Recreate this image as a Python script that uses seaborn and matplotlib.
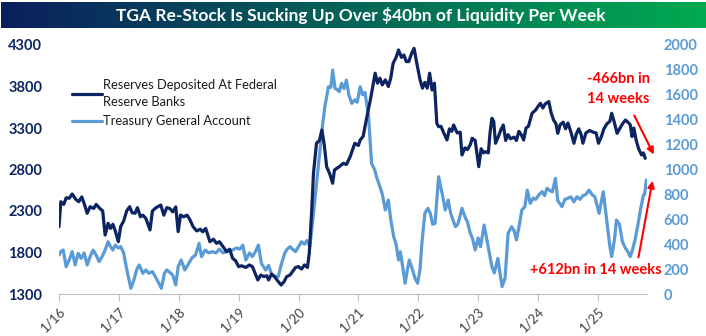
import numpy as np
import pandas as pd
import matplotlib
matplotlib.use("Agg")
import matplotlib.pyplot as plt
import seaborn as sns

# ---------------- data ----------------
res_t = [2016.00, 2016.03, 2016.08, 2016.12, 2016.17, 2016.22, 2016.28, 2016.33, 2016.38, 2016.42,
         2016.47, 2016.52, 2016.58, 2016.62, 2016.68, 2016.73, 2016.77, 2016.82, 2016.86, 2016.90,
         2016.94, 2016.99, 2017.03, 2017.08, 2017.13, 2017.18, 2017.22, 2017.27, 2017.31, 2017.36,
         2017.40, 2017.45, 2017.52, 2017.56, 2017.62, 2017.70, 2017.75, 2017.80, 2017.85, 2017.90,
         2017.95, 2017.99, 2018.03, 2018.08, 2018.14, 2018.19, 2018.24, 2018.30, 2018.36, 2018.40,
         2018.45, 2018.52, 2018.58, 2018.63, 2018.68, 2018.74, 2018.80, 2018.85, 2018.90, 2018.95,
         2019.00, 2019.05, 2019.12, 2019.18, 2019.23, 2019.27, 2019.32, 2019.37, 2019.42, 2019.47,
         2019.50, 2019.55, 2019.60, 2019.65, 2019.71, 2019.76, 2019.80, 2019.86, 2019.90, 2019.95,
         2020.00, 2020.05, 2020.10, 2020.15, 2020.18, 2020.22, 2020.25, 2020.30, 2020.35, 2020.39,
         2020.43, 2020.47, 2020.52, 2020.57, 2020.60, 2020.68, 2020.75, 2020.80, 2020.86, 2020.94,
         2021.00, 2021.03, 2021.08, 2021.11, 2021.16, 2021.20, 2021.24, 2021.28, 2021.32, 2021.36,
         2021.40, 2021.45, 2021.50, 2021.54, 2021.58, 2021.63, 2021.67, 2021.72, 2021.76, 2021.80,
         2021.84, 2021.89, 2021.93, 2021.97, 2022.03, 2022.07, 2022.11, 2022.15, 2022.19, 2022.23,
         2022.27, 2022.31, 2022.34, 2022.38, 2022.42, 2022.48, 2022.52, 2022.56, 2022.59, 2022.65,
         2022.70, 2022.73, 2022.78, 2022.82, 2022.87, 2022.90, 2022.95, 2023.01, 2023.05, 2023.09,
         2023.12, 2023.17, 2023.20, 2023.23, 2023.26, 2023.29, 2023.34, 2023.38, 2023.42, 2023.46,
         2023.50, 2023.54, 2023.60, 2023.64, 2023.68, 2023.72, 2023.76, 2023.80, 2023.84, 2023.90,
         2023.96, 2024.00, 2024.04, 2024.08, 2024.12, 2024.18, 2024.22, 2024.26, 2024.30, 2024.33,
         2024.37, 2024.42, 2024.46, 2024.50, 2024.55, 2024.60, 2024.64, 2024.68, 2024.72, 2024.75,
         2024.80, 2024.86, 2024.92, 2024.97, 2025.01, 2025.06, 2025.10, 2025.15, 2025.20, 2025.23,
         2025.27, 2025.32, 2025.37, 2025.42, 2025.46, 2025.50, 2025.54, 2025.57, 2025.60, 2025.64,
         2025.68, 2025.73, 2025.76, 2025.79]
reserves = [2110, 2412, 2380, 2460, 2453, 2505, 2440, 2412, 2470, 2390,
            2272, 2352, 2330, 2380, 2332, 2300, 2010, 2152, 2090, 2140,
            2060, 1930, 2111, 2180, 2300, 2352, 2280, 2272, 2340, 2230,
            2250, 2212, 2071, 2300, 2340, 2372, 2250, 2340, 2330, 2290,
            2350, 2051, 2252, 2230, 2250, 2190, 2110, 2060, 2080, 2050,
            2090, 1930, 1960, 1910, 1930, 1870, 1810, 1840, 1730, 1700,
            1630, 1640, 1620, 1650, 1630, 1560, 1469, 1529, 1510, 1520,
            1469, 1540, 1510, 1460, 1408, 1450, 1508, 1530, 1569, 1620,
            1630, 1600, 1650, 1620, 1794, 2300, 2754, 3116, 3150, 3276,
            3100, 2834, 2750, 2634, 2794, 2834, 2875, 2860, 2950, 3116,
            3090, 3156, 3200, 3316, 3500, 3638, 3800, 3960, 3840, 3900,
            3820, 3880, 3800, 3900, 4080, 4150, 4240, 4150, 4180, 4100,
            4100, 4200, 4260, 4100, 3880, 3780, 3850, 3780, 3960, 3758,
            3840, 3357, 3316, 3320, 3250, 3156, 3290, 3260, 3336, 3240,
            3250, 2975, 3060, 3040, 3100, 3176, 3150, 2834, 3050, 3000,
            3015, 3000, 3250, 3417, 3380, 3116, 3200, 3280, 3336, 3150,
            3220, 3170, 3190, 3150, 3260, 3220, 3156, 3300, 3320, 3477,
            3517, 3560, 3598, 3540, 3590, 3618, 3480, 3396, 3350, 3236,
            3340, 3370, 3290, 3360, 3250, 3116, 3230, 3290, 3220, 3116,
            3240, 3270, 3250, 3240, 3116, 3200, 3290, 3350, 3380, 3477,
            3380, 3236, 3300, 3360, 3396, 3370, 3340, 3196, 3300, 3150,
            3050, 2975, 3000, 2935]

tga_t = [2016.00, 2016.03, 2016.07, 2016.12, 2016.17, 2016.22, 2016.27, 2016.32, 2016.37, 2016.42,
         2016.47, 2016.52, 2016.57, 2016.62, 2016.67, 2016.72, 2016.77, 2016.82, 2016.86, 2016.90,
         2016.94, 2016.99, 2017.03, 2017.08, 2017.13, 2017.20, 2017.25, 2017.30, 2017.34, 2017.40,
         2017.45, 2017.50, 2017.56, 2017.62, 2017.71, 2017.76, 2017.80, 2017.86, 2017.90, 2017.95,
         2017.99, 2018.04, 2018.10, 2018.16, 2018.22, 2018.28, 2018.34, 2018.38, 2018.44, 2018.50,
         2018.56, 2018.62, 2018.68, 2018.74, 2018.80, 2018.86, 2018.90, 2018.96, 2019.02, 2019.07,
         2019.12, 2019.18, 2019.23, 2019.28, 2019.33, 2019.38, 2019.45, 2019.50, 2019.55, 2019.60,
         2019.66, 2019.72, 2019.77, 2019.81, 2019.86, 2019.90, 2019.95, 2020.00, 2020.05, 2020.10,
         2020.14, 2020.19, 2020.24, 2020.33, 2020.40, 2020.44, 2020.50, 2020.54, 2020.57, 2020.61,
         2020.65, 2020.68, 2020.72, 2020.76, 2020.80, 2020.84, 2020.89, 2020.94, 2020.98, 2021.03,
         2021.07, 2021.11, 2021.17, 2021.22, 2021.27, 2021.31, 2021.36, 2021.40, 2021.45, 2021.50,
         2021.54, 2021.59, 2021.63, 2021.67, 2021.70, 2021.74, 2021.78, 2021.82, 2021.85, 2021.90,
         2021.95, 2021.99, 2022.03, 2022.06, 2022.11, 2022.16, 2022.20, 2022.24, 2022.28, 2022.34,
         2022.38, 2022.41, 2022.45, 2022.50, 2022.54, 2022.58, 2022.62, 2022.66, 2022.70, 2022.73,
         2022.78, 2022.82, 2022.87, 2022.91, 2022.95, 2023.00, 2023.04, 2023.10, 2023.14, 2023.19,
         2023.23, 2023.27, 2023.33, 2023.37, 2023.40, 2023.45, 2023.50, 2023.56, 2023.60, 2023.64,
         2023.69, 2023.73, 2023.78, 2023.82, 2023.87, 2023.92, 2023.96, 2024.02, 2024.07, 2024.11,
         2024.15, 2024.20, 2024.24, 2024.29, 2024.33, 2024.40, 2024.45, 2024.50, 2024.55, 2024.60,
         2024.65, 2024.70, 2024.75, 2024.80, 2024.85, 2024.90, 2024.95, 2025.02, 2025.09, 2025.16,
         2025.20, 2025.23, 2025.28, 2025.31, 2025.36, 2025.41, 2025.46, 2025.50, 2025.54, 2025.58,
         2025.62, 2025.67, 2025.71, 2025.76, 2025.78, 2025.81]
tga = [313, 340, 353, 219, 273, 340, 233, 327, 286, 330,
       233, 300, 353, 313, 260, 300, 353, 420, 380, 353,
       393, 370, 380, 330, 200, 46, 112, 200, 233, 166,
       193, 166, 180, 130, 46, 166, 193, 170, 150, 72,
       219, 273, 193, 240, 290, 313, 407, 300, 353, 330,
       340, 330, 360, 330, 340, 345, 353, 370, 360, 393,
       273, 330, 300, 340, 393, 246, 193, 230, 160, 139,
       139, 250, 327, 360, 380, 360, 340, 380, 420, 400,
       430, 380, 600, 1022, 1350, 1504, 1665, 1660, 1799, 1652,
       1640, 1625, 1692, 1650, 1718, 1600, 1531, 1560, 1540, 1665,
       1600, 1620, 1424, 1049, 1000, 930, 862, 800, 675, 755,
       600, 460, 400, 273, 340, 220, 86, 200, 273, 200,
       120, 86, 200, 407, 648, 688, 650, 560, 568, 942,
       850, 781, 675, 755, 650, 594, 541, 560, 630, 688,
       620, 580, 487, 440, 353, 450, 380, 554, 450, 320,
       219, 170, 286, 150, 59, 130, 487, 541, 510, 434,
       560, 675, 700, 835, 728, 770, 760, 800, 822, 790,
       850, 830, 820, 929, 750, 701, 760, 770, 780, 740,
       781, 760, 790, 800, 835, 800, 780, 648, 822, 541,
       380, 300, 450, 594, 560, 420, 367, 340, 300, 360,
       434, 560, 675, 795, 800, 915]

years = list(range(2016, 2026))
year_labels = ["1/16", "1/17", "1/18", "1/19", "1/20", "1/21", "1/22", "1/23", "1/24", "1/25"]
left_ticks = [1300, 1800, 2300, 2800, 3300, 3800, 4300]
right_ticks = list(range(0, 2001, 200))

title = "TGA Re-Stock Is Sucking Up Over $40bn of Liquidity Per Week"
res_label = "Reserves Deposited At Federal\nReserve Banks"
tga_label = "Treasury General Account"
note_res = "-466bn in\n14 weeks"
note_tga = "+612bn in 14 weeks"

NAVY = "#0C2461"
LIGHT = "#5B9BD5"
RED = "#FF0000"

# ---------------- figure ----------------
sns.set_theme(style="white")
plt.rcParams["font.family"] = ["Lato", "DejaVu Sans"]

W, H = 706, 336
fig = plt.figure(figsize=(W / 100, H / 100), dpi=100)
ax = fig.add_axes([59 / W, 1 - 294 / H, (647 - 59) / W, (294 - 45) / H])
ax2 = ax.twinx()

df_res = pd.DataFrame({"t": res_t, "v": reserves})
df_tga = pd.DataFrame({"t": tga_t, "v": tga})
sns.lineplot(data=df_res, x="t", y="v", ax=ax, color=NAVY, linewidth=2.3, label=res_label, legend=False)
sns.lineplot(data=df_tga, x="t", y="v", ax=ax2, color=LIGHT, linewidth=2.3, label=tga_label, legend=False)
ax.set_zorder(ax2.get_zorder() + 1)
ax.patch.set_visible(False)

ax.set_xlim(2016, 2025.82)
ax.set_ylim(1300, 4300)
ax2.set_ylim(0, 2000)
ax.set_xlabel("")
ax.set_ylabel("")
ax2.set_ylabel("")

ax.set_xticks(years)
ax.set_xticklabels(year_labels, rotation=45, ha="right", rotation_mode="anchor",
                   fontsize=9.5, color="#404040")
ax.tick_params(axis="x", which="major", length=5, width=0.8, color="#BFBFBF", pad=3, direction="out", bottom=True)
ax.set_yticks(left_ticks)
ax.set_yticklabels([str(v) for v in left_ticks], fontsize=10.5, fontweight="bold", color=NAVY)
ax.tick_params(axis="y", length=0, pad=12)
ax2.set_yticks(right_ticks)
ax2.set_yticklabels([str(v) for v in right_ticks], fontsize=10.5, fontweight="bold", color=LIGHT)
ax2.tick_params(axis="y", length=0, pad=12)

for a in (ax, ax2):
    for s in ("top", "left", "right"):
        a.spines[s].set_visible(False)
    a.grid(False)
ax.spines["bottom"].set_color("#BFBFBF")
ax.spines["bottom"].set_linewidth(0.8)
ax2.spines["bottom"].set_visible(False)

h1 = ax.get_lines()[0]
h2 = ax2.get_lines()[0]
leg = ax.legend([h1, h2], [res_label, tga_label], loc="upper left",
                bbox_to_anchor=(0.022, 0.865), frameon=False, fontsize=9.3,
                handlelength=2.3, handletextpad=0.1, borderpad=0, borderaxespad=0,
                labelspacing=0.55)
for t in leg.get_texts():
    t.set_color("#1a1a1a")
    t.set_linespacing(1.55)

# annotations
ax.text((587 - 59) / 588, (294 - 89) / 249, note_res, transform=ax.transAxes,
        color=RED, fontsize=10.5, fontweight="bold", ha="left", va="center",
        linespacing=1.55, clip_on=False)
ax.annotate("", xy=((655 - 59) / 588, (294 - 157) / 249),
            xytext=((633 - 59) / 588, (294 - 113) / 249),
            xycoords="axes fraction", textcoords="axes fraction",
            arrowprops=dict(arrowstyle="-|>", color=RED, lw=1.5, mutation_scale=10),
            annotation_clip=False)
ax.annotate("", xy=((653 - 59) / 588, (294 - 178) / 249),
            xytext=((638 - 59) / 588, (294 - 260) / 249),
            xycoords="axes fraction", textcoords="axes fraction",
            arrowprops=dict(arrowstyle="-|>", color=RED, lw=1.5, mutation_scale=10),
            annotation_clip=False)
ax.text((530 - 59) / 588, (294 - 270) / 249, note_tga, transform=ax.transAxes,
        color=RED, fontsize=10.5, fontweight="bold", ha="left", va="center", clip_on=False)

# title bar with gradient
tax = fig.add_axes([1 / W, 1 - 28 / H, 1 - 1 / W, 26 / H])
c0 = np.array(matplotlib.colors.to_rgb("#0B1F5E"))
c1 = np.array(matplotlib.colors.to_rgb("#00AA50"))
grad = np.linspace(0, 1, 256)[None, :, None]
img = c0[None, None, :] * (1 - grad) + c1[None, None, :] * grad
tax.imshow(img, aspect="auto", extent=(0, 1, 0, 1))
tax.set_axis_off()
tax.text(0.51, 0.5, title, color="white", fontsize=12.5, fontweight="bold",
         ha="center", va="center", transform=tax.transAxes)

fig.savefig("out.png", dpi=100)
